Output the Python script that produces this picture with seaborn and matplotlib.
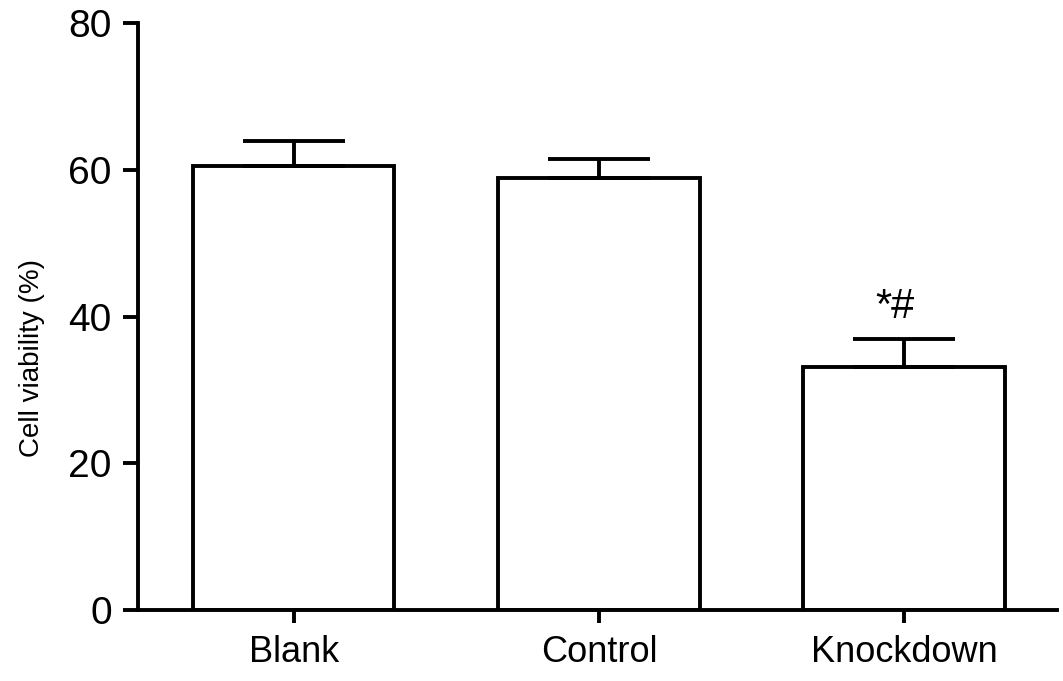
import numpy as np
import pandas as pd
import matplotlib
matplotlib.use("Agg")
import matplotlib.pyplot as plt
import seaborn as sns

groups = ["Blank", "Control", "Knockdown"]
viability = [60.6, 58.9, 33.2]
sd = [3.4, 2.6, 3.7]
marks = ["", "", "*#"]

df = pd.DataFrame({"group": groups, "viability": viability, "sd": sd})

sns.set_style("ticks")
plt.rcParams["font.family"] = ["Liberation Sans", "DejaVu Sans"]
for k in ["text.color", "axes.labelcolor", "xtick.color", "ytick.color", "axes.edgecolor"]:
    plt.rcParams[k] = "black"

fig = plt.figure(figsize=(10.63, 6.81), dpi=100)
ax = fig.add_axes([0.130, 0.104, 0.864, 0.862])

lw = 2.8
sns.barplot(data=df, x="group", y="viability", color="white", edgecolor="black",
            linewidth=lw, width=0.66, errorbar=None, ax=ax)

# only the upper half of the error bar, like the original
x = np.arange(len(groups))
ax.errorbar(x, df["viability"], yerr=[np.zeros(len(groups)), df["sd"]], fmt="none",
            ecolor="black", elinewidth=lw, capsize=37, capthick=lw, zorder=1)

for i, m in enumerate(marks):
    if m:
        ax.text(x[i] - 0.03, viability[i] + sd[i] + 2.9, m, ha="center", va="baseline",
                fontsize=30)

ax.set_xlim(-0.51, 2.5)
ax.set_ylim(0, 80)
ax.set_yticks([0, 20, 40, 60, 80])
ax.set_xlabel("")
ax.set_ylabel("Cell viability (%)", fontsize=20)
ax.yaxis.set_label_coords(-0.101, 0.43)
ax.tick_params(axis="y", labelsize=28, width=lw, length=11, pad=8)
ax.tick_params(axis="x", labelsize=26, width=lw, length=9, pad=9)
sns.despine(ax=ax)
for s in ["left", "bottom"]:
    ax.spines[s].set_linewidth(lw)

fig.savefig("out.png", dpi=100)
